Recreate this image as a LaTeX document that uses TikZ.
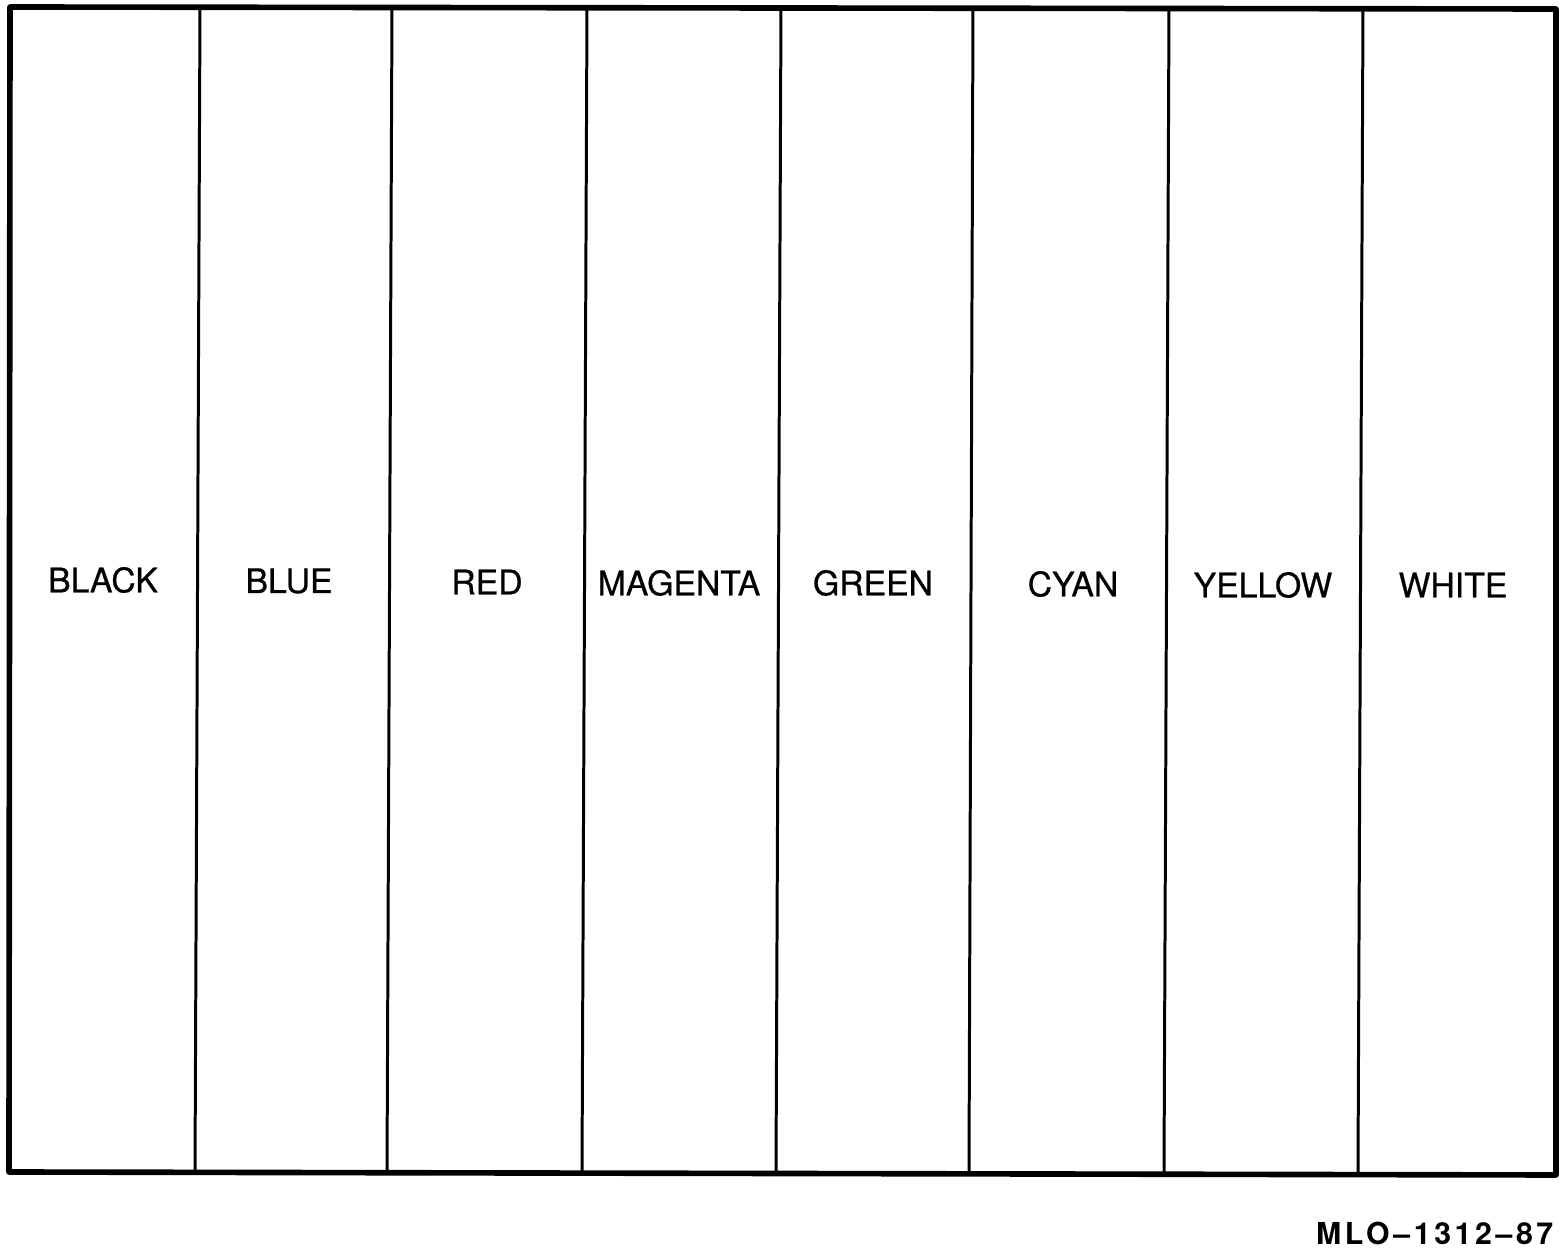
\documentclass[tikz,border=0pt]{standalone}
\usepackage{fontspec}
\setmainfont{TeX Gyre Heros}
\usetikzlibrary{calc}
\definecolor{ink}{HTML}{000000}
\tikzset{
  frame/.style={draw=ink,line width=1.6pt,line join=round},
  divider/.style={draw=ink,line width=0.85pt},
  barlabel/.style={inner sep=0pt,font=\fontsize{9.6}{11}\selectfont\addfontfeatures{FakeBold=0.6},text=ink},
  figcode/.style={inner sep=0pt,anchor=base east,font=\fontsize{8.6}{10}\selectfont\bfseries\addfontfeatures{LetterSpace=12},text=ink}
}
\begin{document}
\begin{tikzpicture}[x=0.01cm,y=-0.01cm]
        \useasboundingbox (0,0) rectangle (1565,1249);
        \draw[frame] (10,7) -- (1556,9) -- (1556,1175) -- (9,1172) -- cycle;
        % bar dividers: top x / bottom x
        \foreach \xt/\xb [count=\i] in {200/195,392/387,587/582,781/776,973/969,1169/1164,1363/1358}
          \draw[divider] (\xt,9) -- (\xb,1174);
        \node[barlabel] (black) at (103,580) {BLACK};
        \node[barlabel] (blue) at (289,581) {BLUE};
        \node[barlabel] (red) at (487,582) {RED};
        \node[barlabel] (magenta) at (679,583) {MAGENTA};
        \node[barlabel] (green) at (873,583) {GREEN};
        \node[barlabel] (cyan) at (1073,584) {CYAN};
        \node[barlabel] (yellow) at (1263,585) {YELLOW};
        \node[barlabel] (white) at (1453,585) {WHITE};
        \node[figcode] (code) at (1554,1245) {MLO--1312--87};
      \end{tikzpicture}
\end{document}
